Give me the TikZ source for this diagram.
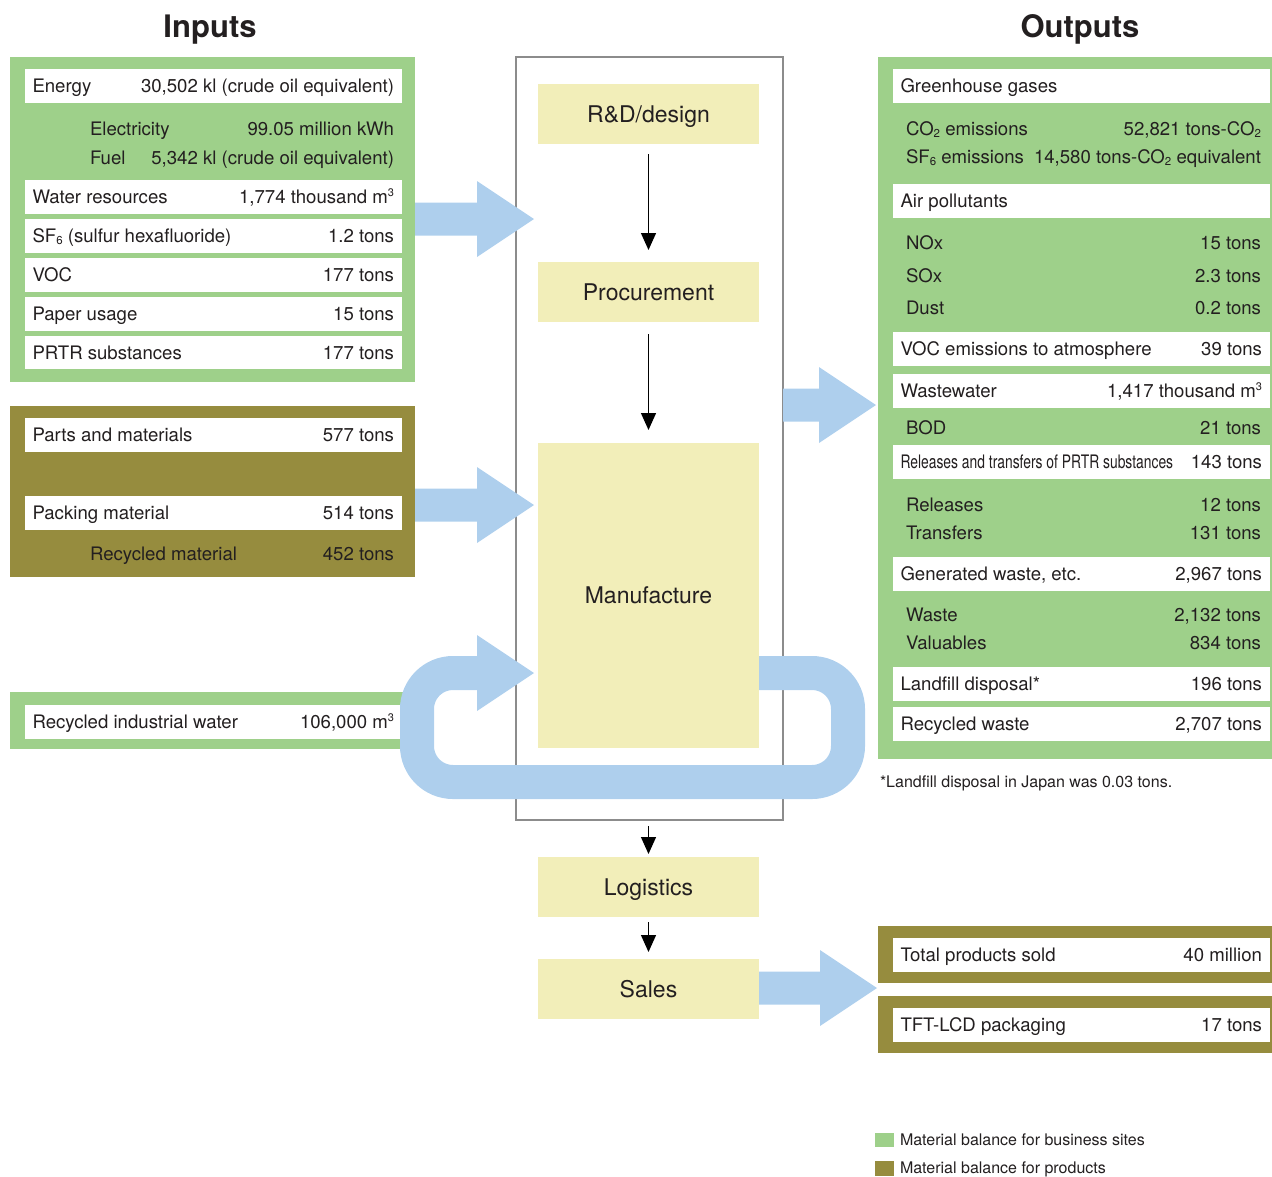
\documentclass[tikz,border=0pt]{standalone}
\usepackage{fontspec}
\usepackage{graphicx}
\setmainfont{TeX Gyre Heros}
\usetikzlibrary{calc,arrows.meta}
\definecolor{gr}{RGB}{158,208,138}
\definecolor{ol}{RGB}{150,140,62}
\definecolor{bl}{RGB}{174,207,237}
\definecolor{yl}{RGB}{242,238,185}
\definecolor{tx}{RGB}{35,31,32}
\definecolor{gy}{RGB}{140,140,140}
\newcommand\supthree{\raisebox{7pt}{\fontsize{11}{11}\selectfont 3}}
\newcommand\lowsub[1]{\raisebox{-1.5pt}{\fontsize{11.5}{11.5}\selectfont #1}}
% rectangle by corners
\newcommand\rectnode[6]{\node[#2, anchor=north west, minimum width={#5-#3}, minimum height={#6-#4}] (#1) at (#3,#4) {};}
% white row with two labels
\newcommand\wrow[7]{%
  \node[wbox, anchor=north west, minimum width={#3-#2}, minimum height={#5-#4}] (#1) at (#2,#4) {};
  \node[lbl, anchor=west] (#1-l) at ([xshift=7.5pt]#1.west) {#6};
  \node[lbl, anchor=east] (#1-r) at ([xshift=-8pt]#1.east) {#7};}
% plain row with two labels
\newcommand\prow[6]{%
  \node[lbl, anchor=west] (#1-l) at (#2,#4) {#5};
  \node[lbl, anchor=east] (#1-r) at (#3,#4) {#6};}
% block arrow from #1 to tip #2
\newcommand\blockarrow[2]{%
  \fill[bl] let \p1=(#1), \p2=(#2) in
  (\x1,\y2+16.5pt) -- (\x2-57pt,\y2+16.5pt) -- (\x2-57pt,\y2+38pt) -- (\x2,\y2)
  -- (\x2-57pt,\y2-38pt) -- (\x2-57pt,\y2-16.5pt) -- (\x1,\y2-16.5pt) -- cycle;}
\begin{document}
\begin{tikzpicture}[x=1pt,y=-1pt,
  every node/.style={inner sep=0pt, outer sep=0pt, text=tx},
  wbox/.style={fill=white, rectangle},
  gpanel/.style={fill=gr, rectangle},
  opanel/.style={fill=ol, rectangle},
  lbl/.style={font=\fontsize{18.6}{18.6}\selectfont, text height=13.4pt, text depth=0pt},
  small/.style={font=\fontsize{16}{16}\selectfont, text height=11.5pt, text depth=0pt},
  title/.style={font=\bfseries\fontsize{31}{31}\selectfont, text height=22.5pt, text depth=0pt},
  proc/.style={fill=yl, rectangle, minimum width=221, font=\fontsize{23}{23}\selectfont, text height=16.5pt, text depth=0pt},
  tarrow/.style={draw=black, line width=1.3pt, -{Triangle[width=15pt,length=17pt]}}]
\useasboundingbox (0,0) rectangle (1272,1176);

% titles
\node[title] (tin) at (210,26) {Inputs};
\node[title] (tout) at (1080,26) {Outputs};

% ---------- left panels ----------
\rectnode{gin}{gpanel}{10}{57}{415}{382}
\wrow{energy}{25}{402}{69}{103}{Energy}{30,502 kl (crude oil equivalent)}
\prow{elec}{90}{394}{129}{Electricity}{99.05 million kWh}
\prow{fuel}{90}{394}{158}{Fuel}{5,342 kl (crude oil equivalent)}
\wrow{water}{25}{402}{180}{214}{Water resources}{1,774 thousand m\supthree}
\wrow{sf}{25}{402}{219}{253}{SF\lowsub{6} (sulfur hexafluoride)}{1.2 tons}
\wrow{voc}{25}{402}{258}{292}{VOC}{177 tons}
\wrow{paper}{25}{402}{297}{331}{Paper usage}{15 tons}
\wrow{prtr}{25}{402}{336}{369}{PRTR substances}{177 tons}

\rectnode{oin}{opanel}{10}{406}{415}{577}
\wrow{parts}{25}{402}{418}{452}{Parts and materials}{577 tons}
\wrow{pack}{25}{402}{496}{530}{Packing material}{514 tons}
\prow{recm}{90}{394}{554}{Recycled material}{452 tons}

\rectnode{gwat}{gpanel}{10}{692}{415}{749}
\wrow{rwater}{25}{402}{705}{739}{Recycled industrial water}{106,000 m\supthree}

% ---------- right panels ----------
\rectnode{gout}{gpanel}{878}{57}{1272}{759}
\wrow{ghg}{893}{1270}{69}{103}{Greenhouse gases}{}
\prow{co2}{906}{1261}{129}{CO\lowsub{2} emissions}{52,821 tons-CO\lowsub{2}}
\prow{sf6}{906}{1261}{157}{SF\lowsub{6} emissions}{14,580 tons-CO\lowsub{2} equivalent}
\wrow{air}{893}{1270}{184}{218}{Air pollutants}{}
\prow{nox}{906}{1261}{243}{NOx}{15 tons}
\prow{sox}{906}{1261}{276}{SOx}{2.3 tons}
\prow{dust}{906}{1261}{308}{Dust}{0.2 tons}
\wrow{vocem}{893}{1270}{332}{366}{VOC emissions to atmosphere}{39 tons}
\wrow{ww}{893}{1270}{374}{408}{Wastewater}{1,417 thousand m\supthree}
\prow{bod}{906}{1261}{428}{BOD}{21 tons}
\wrow{rt}{893}{1270}{445}{479}{\scalebox{0.745}[1]{Releases and transfers of PRTR substances}}{143 tons}
\prow{rel}{906}{1261}{505}{Releases}{12 tons}
\prow{tra}{906}{1261}{533}{Transfers}{131 tons}
\wrow{gw}{893}{1270}{557}{591}{Generated waste, etc.}{2,967 tons}
\prow{waste}{906}{1261}{615}{Waste}{2,132 tons}
\prow{val}{906}{1261}{643}{Valuables}{834 tons}
\wrow{land}{893}{1270}{667}{701}{Landfill disposal*}{196 tons}
\wrow{recw}{893}{1270}{707}{741}{Recycled waste}{2,707 tons}
\node[small, anchor=west] (foot) at (880,782) {*Landfill disposal in Japan was 0.03 tons.};

\rectnode{osold}{opanel}{878}{926}{1272}{983}
\wrow{sold}{893}{1270}{938}{972}{Total products sold}{40 million}
\rectnode{otft}{opanel}{878}{996}{1272}{1053}
\wrow{tft}{893}{1270}{1008}{1042}{TFT-LCD packaging}{17 tons}

% legend
\rectnode{lg1}{gpanel}{875}{1133}{894}{1147}
\node[small, anchor=west] (lg1t) at (900,1140) {Material balance for business sites};
\rectnode{lg2}{opanel}{875}{1161}{894}{1176}
\node[small, anchor=west] (lg2t) at (900,1168) {Material balance for products};

% ---------- process column ----------
\node[draw=gy, line width=2pt, rectangle, anchor=north west, minimum width=267, minimum height=763] (pbox) at (516,57) {};
\node[proc, minimum height=60] (rd) at (648.5,114) {R\&D/design};
\node[proc, minimum height=60] (procu) at (648.5,292) {Procurement};
\node[proc, minimum height=305] (manuf) at (648.5,595.5) {Manufacture};
\node[proc, minimum height=60] (logi) at (648.5,887) {Logistics};
\node[proc, minimum height=60] (sales) at (648.5,989) {Sales};

\draw[tarrow, shorten <=10pt, shorten >=12pt] (rd) -- (procu);
\draw[tarrow, shorten <=12pt, shorten >=13pt] (procu) -- (manuf);
\draw[tarrow, shorten <=6pt, shorten >=3pt] (pbox.south -| logi) -- (logi.north);
\draw[tarrow, shorten <=5pt, shorten >=7pt] (logi) -- (sales);

% ---------- block arrows ----------
\coordinate (tip1) at (534,219);
\coordinate (tip2) at (534,505);
\coordinate (tip3) at (876,405);
\coordinate (tip4) at (877,988);
\blockarrow{gin.east |- tip1}{tip1}
\blockarrow{oin.east |- tip2}{tip2}
\blockarrow{pbox.east |- tip3}{tip3}
\blockarrow{sales.east |- tip4}{tip4}

% recycling loop
\coordinate (lp) at (534,673);
\coordinate (lpb) at (477,673);
\draw[bl, line width=34pt, rounded corners=36pt] (manuf.east |- lp) -- (848,673) -- (848,782) -- (417,782) -- (417,673) -- (lpb);
\fill[bl] (477,635) -- (lp) -- (477,711) -- cycle;
\end{tikzpicture}
\end{document}
